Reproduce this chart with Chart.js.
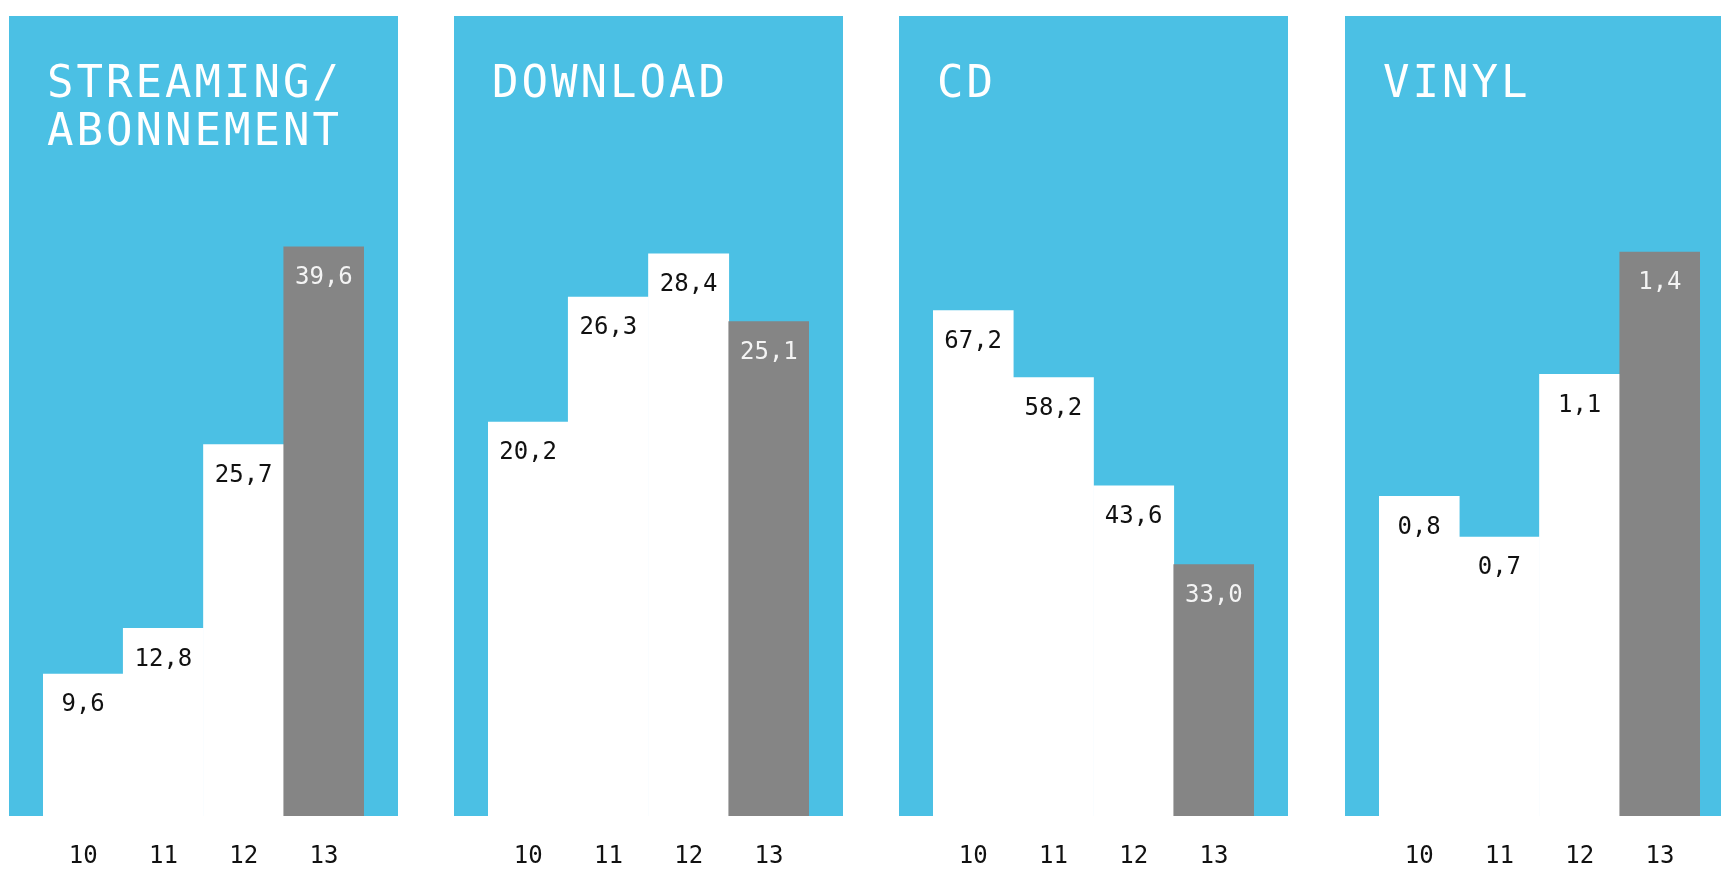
<!DOCTYPE html>
<html>
<head>
<meta charset="utf-8">
<title>Musikmarkt</title>
<script src="https://cdn.jsdelivr.net/npm/chart.js@4/dist/chart.umd.min.js"></script>
<style>
  html, body { margin: 0; padding: 0; background: #fff; overflow: hidden; }
  #wrap { position: relative; width: 1721px; height: 889px; }
  #wrap canvas { position: absolute; top: 0; }
</style>
</head>
<body>
<div id="wrap">
  <canvas id="c0" width="389" height="889" style="left:9px"></canvas>
  <canvas id="c1" width="389" height="889" style="left:454px"></canvas>
  <canvas id="c2" width="389" height="889" style="left:899px"></canvas>
  <canvas id="c3" width="389" height="889" style="left:1345px"></canvas>
</div>
<script>
const years = ['10', '11', '12', '13'];

const streaming = [9.6, 12.8, 25.7, 39.6];
const download = [20.2, 26.3, 28.4, 25.1];
const cd = [67.2, 58.2, 43.6, 33.0];
const vinyl = [0.8, 0.7, 1.1, 1.4];

const titles = [
  ['STREAMING/', 'ABONNEMENT'],
  ['DOWNLOAD'],
  ['CD'],
  ['VINYL']
];

// each panel has its own scale
const ranges = [
  { min: -0.37, max: 55.8 },
  { min: 1.0, max: 40.0 },
  { min: -0.88, max: 106.9 },
  { min: 0.015, max: 1.98 }
];

const blue = '#4bc0e4';
const grey = '#858585';
const barColors = ['#ffffff', '#ffffff', '#ffffff', grey];
const mono = "'DejaVu Sans Mono', monospace";

const panelBg = {
  id: 'panelBg',
  beforeDraw(chart) {
    const { ctx, chartArea } = chart;
    ctx.save();
    ctx.fillStyle = blue;
    ctx.fillRect(0, 16, chart.width, chartArea.bottom - 16);
    ctx.restore();
  }
};

const panelTitle = {
  id: 'panelTitle',
  afterDraw(chart, args, opts) {
    const ctx = chart.ctx;
    ctx.save();
    ctx.fillStyle = '#ffffff';
    ctx.font = '44px ' + mono;
    ctx.letterSpacing = '3px';
    ctx.textAlign = 'left';
    ctx.textBaseline = 'alphabetic';
    opts.lines.forEach((line, i) => ctx.fillText(line, 38, 97 + i * 48));
    ctx.restore();
  }
};

const valueLabels = {
  id: 'valueLabels',
  afterDatasetsDraw(chart) {
    const ctx = chart.ctx;
    const meta = chart.getDatasetMeta(0);
    const data = chart.data.datasets[0].data;
    ctx.save();
    ctx.font = '24px ' + mono;
    ctx.textAlign = 'center';
    ctx.textBaseline = 'middle';
    meta.data.forEach((bar, i) => {
      ctx.fillStyle = i === 3 ? '#f4f4f4' : '#111111';
      ctx.fillText(data[i].toFixed(1).replace('.', ','), bar.x, bar.y + 31);
    });
    ctx.restore();
  }
};

[streaming, download, cd, vinyl].forEach((values, k) => {
  new Chart(document.getElementById('c' + k), {
    type: 'bar',
    data: {
      labels: years,
      datasets: [{
        data: values,
        base: ranges[k].min,
        backgroundColor: barColors,
        borderWidth: 0,
        barPercentage: 1,
        categoryPercentage: 1
      }]
    },
    options: {
      responsive: false,
      animation: false,
      layout: { padding: { left: 34, right: 34, top: 16, bottom: 0 } },
      plugins: {
        legend: { display: false },
        tooltip: { enabled: false },
        panelTitle: { lines: titles[k] }
      },
      scales: {
        x: {
          grid: { display: false, drawTicks: false },
          border: { display: false },
          ticks: {
            color: '#111111',
            padding: 26,
            font: { family: mono, size: 24 }
          },
          afterFit(scale) { scale.height = 73; }
        },
        y: {
          display: false,
          min: ranges[k].min,
          max: ranges[k].max
        }
      }
    },
    plugins: [panelBg, panelTitle, valueLabels]
  });
});
</script>
</body>
</html>
